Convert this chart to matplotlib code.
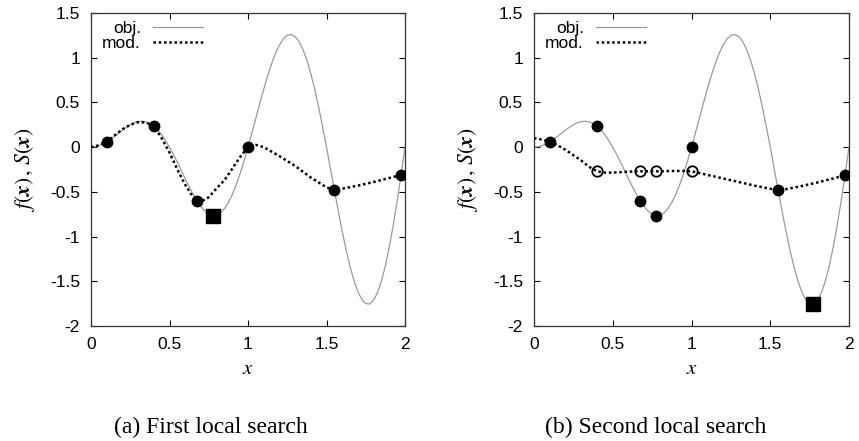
import numpy as np
import matplotlib
matplotlib.use('Agg')
import matplotlib.pyplot as plt

plt.rcParams['font.family'] = ['Liberation Sans', 'DejaVu Sans']
plt.rcParams['mathtext.fontset'] = 'stix'

# objective function, every 0.025
x_obj = np.arange(81) * 0.025
f_obj = [0.0, 0.004, 0.016, 0.034, 0.059, 0.088, 0.121, 0.156, 0.190, 0.222,
         0.250, 0.272, 0.285, 0.290, 0.283, 0.265, 0.235, 0.193, 0.139, 0.074,
         0.0, -0.082, -0.170, -0.261, -0.353, -0.442, -0.526, -0.601, -0.666, -0.716,
         -0.750, -0.766, -0.761, -0.735, -0.688, -0.619, -0.529, -0.420, -0.294, -0.152,
         0.0, 0.160, 0.324, 0.488, 0.647, 0.795, 0.930, 1.047, 1.141, 1.210,
         1.250, 1.260, 1.236, 1.181, 1.092, 0.972, 0.823, 0.647, 0.448, 0.231,
         0.0, -0.239, -0.479, -0.715, -0.940, -1.149, -1.335, -1.493, -1.617, -1.704,
         -1.750, -1.754, -1.712, -1.626, -1.497, -1.326, -1.117, -0.874, -0.603, -0.308,
         0.0]

# surrogate model, first local search
x_mod_a = [0.0, 0.05, 0.1, 0.15, 0.2, 0.25, 0.3, 0.35, 0.4, 0.45, 0.5, 0.55, 0.6,
           0.65, 0.7, 0.75, 0.8, 0.85, 0.9, 0.95, 1.0, 1.05, 1.1, 1.2, 1.3, 1.4,
           1.5, 1.55, 1.6, 1.7, 1.8, 1.9, 1.975, 2.0]
s_mod_a = [0.0, 0.02, 0.06, 0.13, 0.20, 0.25, 0.28, 0.275, 0.235, 0.10, -0.06, -0.25,
           -0.42, -0.56, -0.61, -0.56, -0.46, -0.37, -0.24, -0.11, 0.0, 0.025, 0.0,
           -0.10, -0.21, -0.34, -0.45, -0.48, -0.465, -0.43, -0.39, -0.345, -0.31, -0.30]

# surrogate model, second local search
x_mod_b = [0.0, 0.05, 0.1, 0.15, 0.2, 0.25, 0.3, 0.35, 0.4, 0.45, 0.5, 0.55, 0.6,
           0.65, 0.7, 0.75, 0.8, 0.85, 0.9, 0.95, 1.0, 1.1, 1.2, 1.3, 1.4, 1.5,
           1.55, 1.6, 1.7, 1.8, 1.9, 1.975, 2.0]
s_mod_b = [0.10, 0.085, 0.06, 0.02, -0.03, -0.09, -0.15, -0.22, -0.27, -0.285, -0.285,
           -0.28, -0.275, -0.27, -0.27, -0.27, -0.27, -0.268, -0.266, -0.266, -0.27,
           -0.31, -0.35, -0.39, -0.43, -0.465, -0.48, -0.47, -0.435, -0.395, -0.35,
           -0.315, -0.30]

# sample points
x_pts_a = [0.1, 0.4, 0.675, 1.0, 1.55, 1.975]
y_pts_a = [0.06, 0.235, -0.60, 0.0, -0.48, -0.31]
x_best_a, y_best_a = [0.775], [-0.766]

x_pts_b = [0.1, 0.4, 0.675, 0.775, 1.0, 1.55, 1.975]
y_pts_b = [0.06, 0.235, -0.60, -0.766, 0.0, -0.48, -0.31]
x_open_b = [0.4, 0.675, 0.775, 1.0]
y_open_b = [-0.27, -0.27, -0.27, -0.27]
x_best_b, y_best_b = [1.77], [-1.755]

x_ticks = [0, 0.5, 1, 1.5, 2]
x_ticklabels = ['0', '0.5', '1', '1.5', '2']
y_ticks = [-2, -1.5, -1, -0.5, 0, 0.5, 1, 1.5]
y_ticklabels = ['-2', '-1.5', '-1', '-0.5', '0', '0.5', '1', '1.5']
captions = ['(a) First local search', '(b) Second local search']

fig = plt.figure(figsize=(8.59, 4.41), dpi=100)
ax_a = fig.add_axes([91 / 859, 1 - 326 / 441, 314 / 859, 313 / 441])
ax_b = fig.add_axes([534 / 859, 1 - 326 / 441, 315 / 859, 313 / 441])

panels = [
    (ax_a, x_mod_a, s_mod_a, x_pts_a, y_pts_a, None, None, x_best_a, y_best_a),
    (ax_b, x_mod_b, s_mod_b, x_pts_b, y_pts_b, x_open_b, y_open_b, x_best_b, y_best_b),
]

for ax, xm, sm, xp, yp, xo, yo, xb, yb in panels:
    ax.plot(x_obj, f_obj, color='#9a9a9a', lw=0.9, label='obj.', zorder=2)
    ax.plot(xm, sm, color='black', lw=1.8, ls=(0, (1, 1.1)), label='mod.', zorder=3)
    ax.plot(xp, yp, 'o', color='black', ms=7.5, zorder=5)
    if xo is not None:
        ax.plot(xo, yo, 'o', mfc='none', mec='black', mew=1.3, ms=7.5, zorder=5)
    ax.plot(xb, yb, 's', color='black', ms=10.5, zorder=6)

    ax.set_xlim(0, 2)
    ax.set_ylim(-2, 1.5)
    ax.set_xticks(x_ticks)
    ax.set_xticklabels(x_ticklabels)
    ax.set_yticks(y_ticks)
    ax.set_yticklabels(y_ticklabels)
    ax.tick_params(direction='in', top=True, right=True, length=4.5, width=0.8,
                   labelsize=12.5, pad=8, colors='black')
    for sp in ax.spines.values():
        sp.set_linewidth(0.9)
        sp.set_color('#333333')

    ax.set_xlabel(r'$x$', fontsize=15, labelpad=5)
    ax.set_ylabel(r'$f(\boldsymbol{x})\,,\,S(\boldsymbol{x})$', fontsize=15.5, labelpad=9)

    leg = ax.legend(loc='upper left', bbox_to_anchor=(0.03, 0.98), frameon=False,
                    markerfirst=False, fontsize=12.5, handlelength=2.9,
                    handletextpad=0.7, labelspacing=0.0, borderpad=0.1,
                    borderaxespad=0.0)

fig.text(211 / 859, 1 - 427 / 441, captions[0], ha='center', va='center',
         fontsize=17, family='Liberation Serif')
fig.text(656 / 859, 1 - 427 / 441, captions[1], ha='center', va='center',
         fontsize=17, family='Liberation Serif')

fig.savefig('out.png', dpi=100)
